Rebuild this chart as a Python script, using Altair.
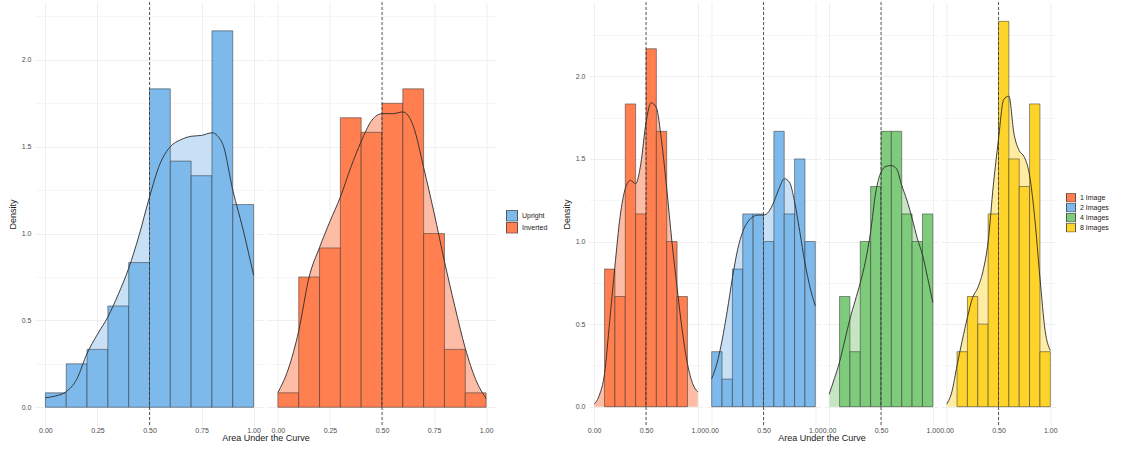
import altair as alt
import pandas as pd

# Histogram bins (left edges, width 0.1) and density readings per condition
bin_left = [0.0, 0.1, 0.2, 0.3, 0.4, 0.5, 0.6, 0.7, 0.8, 0.9]
bin_width = 0.1

orientation_groups = ["Upright", "Inverted"]
upright_hist = [0.083, 0.25, 0.333, 0.583, 0.833, 1.833, 1.417, 1.333, 2.167, 1.167]
inverted_hist = [0.083, 0.75, 0.917, 1.667, 1.583, 1.75, 1.833, 1.0, 0.333, 0.083]

image_groups = ["1 Image", "2 Images", "4 Images", "8 Images"]
img1_hist = [0.0, 0.833, 0.667, 1.833, 1.167, 2.167, 1.667, 1.0, 0.667, 0.0]
img2_hist = [0.333, 0.167, 0.833, 1.167, 1.167, 1.0, 1.667, 1.167, 1.5, 1.0]
img4_hist = [0.0, 0.667, 0.333, 1.0, 1.333, 1.667, 1.667, 1.167, 1.0, 1.167]
img8_hist = [0.0, 0.333, 0.667, 0.5, 1.167, 2.333, 1.5, 1.333, 1.833, 0.333]

# Kernel density estimates sampled every 0.05
curve_x = [0.0, 0.05, 0.1, 0.15, 0.2, 0.25, 0.3, 0.35, 0.4, 0.45, 0.5,
           0.55, 0.6, 0.65, 0.7, 0.75, 0.8, 0.85, 0.9, 0.95, 1.0]
upright_curve = [0.055, 0.065, 0.09, 0.16, 0.31, 0.42, 0.52, 0.65, 0.80, 0.99, 1.21,
                 1.40, 1.50, 1.54, 1.56, 1.565, 1.58, 1.52, 1.25, 1.02, 0.76]
inverted_curve = [0.085, 0.22, 0.44, 0.75, 0.92, 1.07, 1.21, 1.38, 1.53, 1.65, 1.69,
                  1.69, 1.70, 1.62, 1.38, 1.12, 0.84, 0.58, 0.34, 0.16, 0.05]
img1_curve = [0.016, 0.07, 0.20, 0.52, 0.85, 1.15, 1.32, 1.37, 1.35, 1.47, 1.72,
              1.84, 1.81, 1.61, 1.32, 1.0, 0.72, 0.46, 0.26, 0.14, 0.09]
img2_curve = [0.17, 0.26, 0.40, 0.58, 0.78, 0.95, 1.06, 1.12, 1.15, 1.16, 1.16,
              1.18, 1.24, 1.32, 1.38, 1.36, 1.24, 1.06, 0.87, 0.72, 0.61]
img4_curve = [0.075, 0.17, 0.27, 0.40, 0.53, 0.64, 0.75, 0.88, 1.06, 1.30, 1.42,
              1.455, 1.46, 1.44, 1.34, 1.25, 1.14, 1.02, 0.92, 0.78, 0.63]
img8_curve = [0.015, 0.09, 0.25, 0.40, 0.54, 0.66, 0.72, 0.82, 1.0, 1.34, 1.62,
              1.86, 1.88, 1.65, 1.55, 1.51, 1.40, 1.14, 0.78, 0.46, 0.34]

reference_auc = 0.5

blue, blue_light = "#7DB9EA", "#C8E0F5"
orange, orange_light = "#FF7F50", "#FCBCA6"
green, green_light = "#7DCB7B", "#C6E6C3"
yellow, yellow_light = "#FFD42A", "#FFECA3"


def build_frame(groups, hists, curves, lights):
    rows = []
    for g, h, c, lt in zip(groups, hists, curves, lights):
        for lo, d in zip(bin_left, h):
            if d > 0:
                rows.append({"group": g, "kind": "bar", "x": lo, "x2": lo + bin_width,
                             "y": d, "light": lt})
        for xv, yv in zip(curve_x, c):
            rows.append({"group": g, "kind": "curve", "x": xv, "x2": None, "y": yv,
                         "light": lt})
        rows.append({"group": g, "kind": "ref", "x": reference_auc, "x2": None,
                     "y": None, "light": lt})
    return pd.DataFrame(rows)


x_ticks = [i * 0.125 for i in range(9)]
y_ticks = [i * 0.25 for i in range(10)]
grid_color = {"condition": {"test": "(datum.value * 4) % 1 != 0", "value": "#F4F4F4"},
              "value": "#EBEBEB"}
grid_color_y = {"condition": {"test": "(datum.value * 2) % 1 != 0", "value": "#F4F4F4"},
                "value": "#EBEBEB"}


def facet_panel(df, groups, colors, ydom, panel_w, panel_h, legend_x, legend_y,
                symbol_size, clip_h, spacing):
    xscale = alt.Scale(domain=[-0.05, 1.05], nice=False, zero=False)
    yscale = alt.Scale(domain=ydom, nice=False, zero=False)
    xaxis = alt.Axis(title=None, values=x_ticks,
                     labelExpr="(datum.value * 4) % 1 == 0 ? format(datum.value, '.2f') : ''",
                     ticks=False, domain=False, gridColor=grid_color, gridWidth=0.8,
                     labelFontSize=7, labelColor="#4D4D4D", labelPadding=-1,
                     labelFlush=False, labelOverlap=False, labelFont="Liberation Sans")
    yaxis = alt.Axis(title="Density", values=y_ticks,
                     labelExpr="(datum.value * 2) % 1 == 0 ? format(datum.value, '.1f') : ''",
                     ticks=False, domain=False, gridColor=grid_color_y, gridWidth=0.8,
                     labelFontSize=7, labelColor="#4D4D4D", labelPadding=4,
                     titleFontSize=9, titleFontWeight="normal", titleColor="#1A1A1A",
                     titlePadding=4, titleFont="Liberation Sans", labelFont="Liberation Sans")
    base = alt.Chart()
    area = base.transform_filter("datum.kind == 'curve'").mark_area(
        interpolate="monotone", opacity=1
    ).encode(
        x=alt.X("x:Q", scale=xscale, axis=xaxis),
        y=alt.Y("y:Q", scale=yscale, axis=yaxis),
        fill=alt.Fill("light:N", scale=None),
    )
    bars = base.transform_filter("datum.kind == 'bar'").mark_rect(
        stroke="#333333", strokeWidth=0.7, strokeOpacity=0.75
    ).encode(
        x="x:Q", x2="x2:Q", y="y:Q", y2=alt.datum(0),
        color=alt.Color("group:N", scale=alt.Scale(domain=groups, range=colors),
                        legend=alt.Legend(title=None, orient="none", legendX=legend_x,
                                          legendY=legend_y, symbolType="square",
                                          symbolSize=symbol_size, symbolStrokeColor="#333333",
                                          symbolStrokeWidth=0.8, symbolOpacity=1,
                                          rowPadding=0, clipHeight=clip_h, labelFontSize=7,
                                          labelColor="#1A1A1A", labelOffset=4,
                                          labelFont="Liberation Sans")),
    )
    line = base.transform_filter("datum.kind == 'curve'").mark_line(
        interpolate="monotone", color="#2B2B2B", strokeWidth=0.9
    ).encode(x="x:Q", y="y:Q", detail="group:N")
    rule = base.transform_filter("datum.kind == 'ref'").mark_rule(
        color="#333333", strokeDash=[3, 2], strokeWidth=0.8
    ).encode(x="x:Q")
    layered = alt.layer(area, bars, line, rule, data=df).properties(
        width=panel_w, height=panel_h
    )
    return layered.facet(
        column=alt.Column("group:N", sort=groups,
                          header=alt.Header(labels=False, title="Area Under the Curve",
                                            titleOrient="bottom", titleFontSize=9,
                                            titleFontWeight="normal", titleColor="#1A1A1A",
                                            titlePadding=-9, titleFont="Liberation Sans")),
        spacing=spacing,
    )


left_df = build_frame(orientation_groups, [upright_hist, inverted_hist],
                      [upright_curve, inverted_curve], [blue_light, orange_light])
right_df = build_frame(image_groups, [img1_hist, img2_hist, img4_hist, img8_hist],
                       [img1_curve, img2_curve, img4_curve, img8_curve],
                       [orange_light, blue_light, green_light, yellow_light])

left = facet_panel(left_df, orientation_groups, [blue, orange], [-0.108, 2.333],
                   229, 424, 471, 208, 121, 11.5, 3.5)
right = facet_panel(right_df, image_groups, [orange, blue, green, yellow], [-0.117, 2.45],
                    114, 424, 477, 191, 81, 9.3, 3.5)

chart = alt.hconcat(left, right, spacing=14).resolve_scale(
    x="independent", y="independent", color="independent"
).configure_view(stroke=None).properties(
    padding={"left": 8, "top": 1, "right": 0, "bottom": 0}
)

chart.save("out.html", embed_options={"renderer": "svg", "actions": False})
